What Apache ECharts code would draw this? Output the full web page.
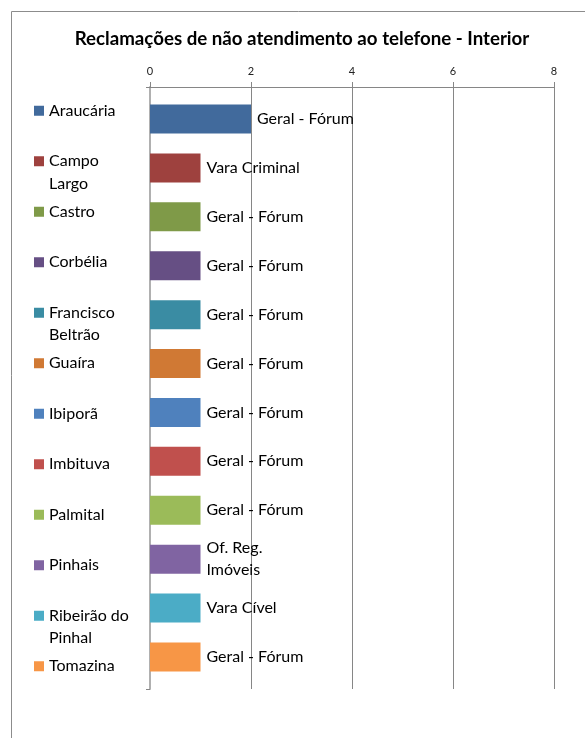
<!DOCTYPE html>
<html>
<head>
<meta charset="utf-8">
<script src="https://cdn.jsdelivr.net/npm/echarts@6/dist/echarts.min.js"></script>
<style>
  html, body { margin: 0; padding: 0; background: #fff; }
  #main { width: 585px; height: 738px; }
</style>
</head>
<body>
<div id="main"></div>
<script>
// cidades (uma série por cidade)
var cities = ['Araucária', 'Campo Largo', 'Castro', 'Corbélia', 'Francisco Beltrão', 'Guaíra',
              'Ibiporã', 'Imbituva', 'Palmital', 'Pinhais', 'Ribeirão do Pinhal', 'Tomazina'];
// texto da legenda (quebras como no original)
var legendText = ['Araucária', 'Campo\nLargo', 'Castro', 'Corbélia', 'Francisco\nBeltrão', 'Guaíra',
                  'Ibiporã', 'Imbituva', 'Palmital', 'Pinhais', 'Ribeirão do\nPinhal', 'Tomazina'];
// número de reclamações
var counts = [2, 1, 1, 1, 1, 1, 1, 1, 1, 1, 1, 1];
// setor de cada reclamação (rótulo da barra)
var sectors = ['Geral - Fórum', 'Vara Criminal', 'Geral - Fórum', 'Geral - Fórum', 'Geral - Fórum', 'Geral - Fórum',
               'Geral - Fórum', 'Geral - Fórum', 'Geral - Fórum', 'Of. Reg.\nImóveis', 'Vara Cível', 'Geral - Fórum'];
var colors = ['#416A9C', '#9E413E', '#7F9A48', '#664F84', '#3A8CA3', '#D07934',
              '#4F81BD', '#C0504D', '#9BBB59', '#8064A2', '#4BACC6', '#F79646'];
var xTicks = [0, 2, 4, 6, 8];

var FONT = 'Lato';
var myChart = echarts.init(document.getElementById('main'));

var series = [];
for (var i = 0; i < cities.length; i++) {
    series.push({
        name: cities[i],
        type: 'bar',
        barWidth: 29,
        barGap: '68.6%',
        color: colors[i],
        data: [counts[i]],
        label: {
            show: true,
            position: 'right',
            distance: 6,
            color: '#000',
            fontFamily: FONT,
            fontSize: 16,
            lineHeight: 22,
            formatter: (function (txt) { return function () { return txt; }; })(sectors[i])
        }
    });
}

var option = {
    animation: false,
    textStyle: { fontFamily: FONT },
    title: {
        text: 'Reclamações de não atendimento ao telefone - Interior',
        left: 297,
        textAlign: 'center',
        top: 24,
        textStyle: { fontFamily: FONT, fontSize: 18.7, fontWeight: 'bold', color: '#000' }
    },
    legend: {
        orient: 'vertical',
        left: 29,
        top: 72,
        itemWidth: 10,
        itemHeight: 10,
        itemGap: -17,
        selectedMode: false,
        icon: 'rect',
        data: cities,
        textStyle: { fontFamily: FONT, fontSize: 16, lineHeight: 22.5, color: '#000' },
        formatter: function (name) {
            var parts = legendText[cities.indexOf(name)].split('\n');
            return ' \n' + parts[0] + '\n' + (parts[1] || ' ');
        }
    },
    grid: { left: 150, right: 31, top: 87, bottom: 49 },
    xAxis: {
        type: 'value',
        position: 'top',
        min: 0,
        max: 8,
        interval: 2,
        axisLine: { show: true, lineStyle: { color: '#868686', width: 1 } },
        axisTick: { show: true, length: 5, lineStyle: { color: '#868686' } },
        axisLabel: {
            margin: 10, color: '#222', fontFamily: FONT, fontSize: 11,
            formatter: function (v) { return xTicks.indexOf(v) >= 0 ? String(v) : ''; }
        },
        splitLine: { show: true, lineStyle: { color: '#868686', width: 1 } }
    },
    yAxis: {
        type: 'category',
        data: [''],
        axisLine: { show: true, lineStyle: { color: '#b0b0b0', width: 2 } },
        axisTick: { show: true, length: 4, lineStyle: { color: '#868686' } },
        axisLabel: { show: false }
    },
    graphic: [{
        type: 'rect',
        shape: { x: 11.5, y: 11.5, width: 640, height: 800 },
        style: { fill: 'none', stroke: '#8c8c8c', lineWidth: 1 },
        z: -1
    }],
    series: series
};

myChart.setOption(option);
</script>
</body>
</html>
